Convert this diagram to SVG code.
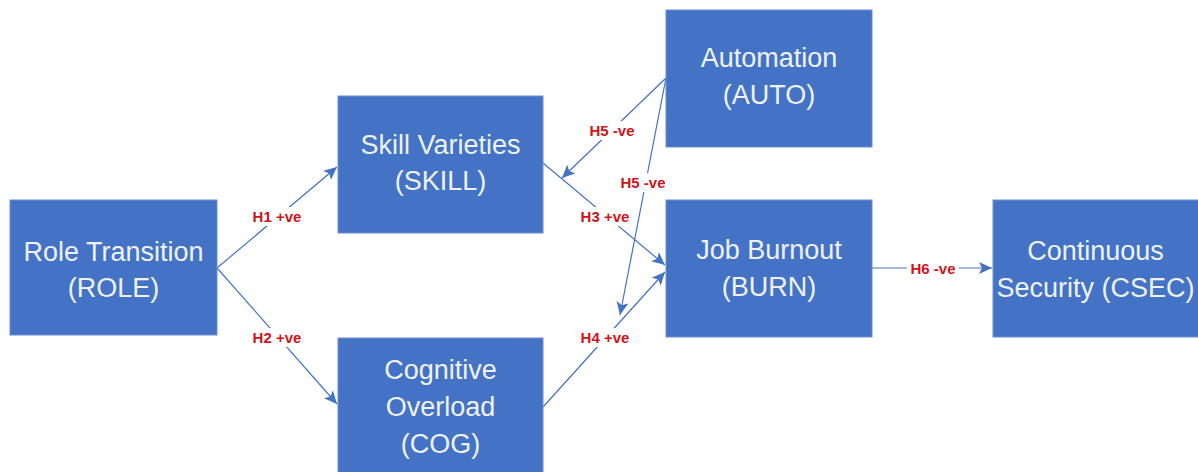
<svg xmlns="http://www.w3.org/2000/svg" width="1198" height="472" viewBox="0 0 1198 472">
<defs>
<style>
.box{fill:#4472C4;stroke:#6B8FD3;stroke-width:1}
.nt{font-family:"Liberation Sans",Arial,sans-serif;font-size:27px;fill:#EEF2FA;text-anchor:middle}
.ln{stroke:#4472C4;stroke-width:1.2;fill:none;marker-end:url(#ah)}
.lb{font-family:"Liberation Sans",Arial,sans-serif;font-size:15px;font-weight:bold;fill:#D0141C;text-anchor:middle}
.bg{fill:#FFFFFF}
</style>
<marker id="ah" markerUnits="userSpaceOnUse" markerWidth="14" markerHeight="12" refX="13" refY="6" orient="auto">
<path d="M0,0 L13,6 L0,12 L3,6 z" fill="#4472C4"/>
</marker>
</defs>
<rect width="1198" height="472" fill="#FFFFFF"/>
<g id="connectors">
<line class="ln" x1="217" y1="268" x2="337" y2="167"/>
<line class="ln" x1="217" y1="268" x2="337" y2="404"/>
<line class="ln" x1="543" y1="163" x2="665" y2="265"/>
<line class="ln" x1="543" y1="407" x2="665" y2="272"/>
<line class="ln" x1="666" y1="78" x2="562" y2="178"/>
<line class="ln" x1="666" y1="78" x2="620" y2="315"/>
<line class="ln" x1="872" y1="268" x2="992" y2="268"/>
<rect class="bg" x="247" y="207" width="60" height="19"/>
<text class="lb" x="277" y="222">H1 +ve</text>
<rect class="bg" x="247" y="328" width="60" height="19"/>
<text class="lb" x="277" y="343">H2 +ve</text>
<rect class="bg" x="575" y="207" width="60" height="19"/>
<text class="lb" x="605" y="222">H3 +ve</text>
<rect class="bg" x="575" y="328" width="60" height="19"/>
<text class="lb" x="605" y="343">H4 +ve</text>
<rect class="bg" x="584" y="121" width="56" height="19"/>
<text class="lb" x="612" y="136">H5 -ve</text>
<rect class="bg" x="615" y="173" width="56" height="19"/>
<text class="lb" x="643" y="188">H5 -ve</text>
<rect class="bg" x="907" y="262" width="52" height="13"/>
<text class="lb" x="933" y="274">H6 -ve</text>
</g>
<g id="node-role">
<rect class="box" x="10" y="200" width="207" height="135"/>
<text class="nt" x="113.5" y="261">Role Transition</text>
<text class="nt" x="113.5" y="297">(ROLE)</text>
</g>
<g id="node-skill">
<rect class="box" x="338" y="96" width="205" height="137"/>
<text class="nt" x="440.5" y="154">Skill Varieties</text>
<text class="nt" x="440.5" y="190">(SKILL)</text>
</g>
<g id="node-cog">
<rect class="box" x="338" y="338" width="205" height="140"/>
<text class="nt" x="440.5" y="379">Cognitive</text>
<text class="nt" x="440.5" y="416">Overload</text>
<text class="nt" x="440.5" y="453">(COG)</text>
</g>
<g id="node-auto">
<rect class="box" x="666" y="10" width="206" height="137"/>
<text class="nt" x="769" y="67">Automation</text>
<text class="nt" x="769" y="104">(AUTO)</text>
</g>
<g id="node-burn">
<rect class="box" x="666" y="200" width="206" height="137"/>
<text class="nt" x="769" y="259">Job Burnout</text>
<text class="nt" x="769" y="296">(BURN)</text>
</g>
<g id="node-csec">
<rect class="box" x="993" y="200" width="210" height="137"/>
<text class="nt" x="1095.5" y="260">Continuous</text>
<text class="nt" x="1095.5" y="297">Security (CSEC)</text>
</g>
</svg>
